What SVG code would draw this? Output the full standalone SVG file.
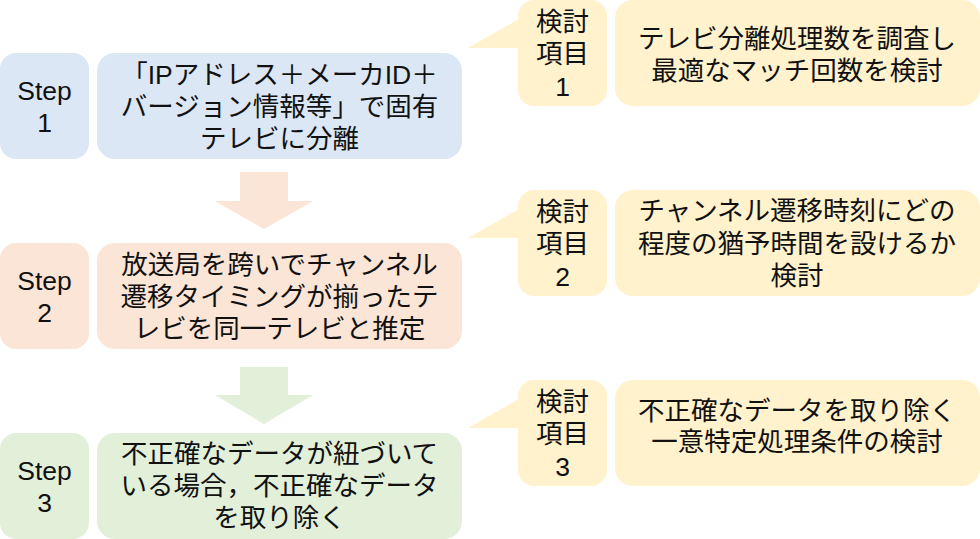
<svg xmlns="http://www.w3.org/2000/svg" width="980" height="539" viewBox="0 0 980 539">
<style>
text{font-family:"Liberation Sans","Noto Sans CJK JP",sans-serif;font-size:26.5px;fill:#111;text-anchor:middle}
.b{fill:#dbe7f5}.o{fill:#fbe5d6}.g{fill:#e2efd9}.y{fill:#fff2cc}
</style>
<g id="connectors">
<polygon class="o" points="240,172 288,172 288,201 313,201 264,229 215,201 240,201"/>
<polygon class="g" points="240,367 288,367 288,395 313,395 264,424 215,395 240,395"/>
</g>
<g id="step1">
<rect class="b" x="0" y="53" width="89" height="106" rx="16"/>
<text x="44.5" y="100">Step</text><text x="44.5" y="132">1</text>
</g>
<g id="task1">
<rect class="b" x="97" y="53" width="365" height="106" rx="18"/>
<text x="279.5" y="84">「IPアドレス＋メーカID＋</text>
<text x="279.5" y="116">バージョン情報等」で固有</text>
<text x="279.5" y="148">テレビに分離</text>
</g>
<g id="step2">
<rect class="o" x="0" y="243" width="89" height="106" rx="16"/>
<text x="44.5" y="290">Step</text><text x="44.5" y="322">2</text>
</g>
<g id="task2">
<rect class="o" x="97" y="243" width="365" height="106" rx="18"/>
<text x="279.5" y="274">放送局を跨いでチャンネル</text>
<text x="279.5" y="306">遷移タイミングが揃ったテ</text>
<text x="279.5" y="338">レビを同一テレビと推定</text>
</g>
<g id="step3">
<rect class="g" x="0" y="433" width="89" height="106" rx="16"/>
<text x="44.5" y="480">Step</text><text x="44.5" y="512">3</text>
</g>
<g id="task3">
<rect class="g" x="97" y="433" width="365" height="106" rx="18"/>
<text x="279.5" y="463">不正確なデータが紐づいて</text>
<text x="279.5" y="495">いる場合，不正確なデータ</text>
<text x="279.5" y="527">を取り除く</text>
</g>
<g id="item1">
<rect class="y" x="518" y="0" width="89" height="106" rx="16"/>
<polygon class="y" points="468,48 524,16 524,48"/>
<text x="562.5" y="31">検討</text><text x="562.5" y="63">項目</text><text x="562.5" y="96">1</text>
</g>
<g id="desc1">
<rect class="y" x="615" y="0" width="365" height="106" rx="18"/>
<text x="797" y="48">テレビ分離処理数を調査し</text>
<text x="797" y="80">最適なマッチ回数を検討</text>
</g>
<g id="item2">
<rect class="y" x="518" y="190" width="89" height="106" rx="16"/>
<polygon class="y" points="468,238 524,206 524,238"/>
<text x="562.5" y="221">検討</text><text x="562.5" y="253">項目</text><text x="562.5" y="286">2</text>
</g>
<g id="desc2">
<rect class="y" x="615" y="190" width="365" height="106" rx="18"/>
<text x="797" y="220">チャンネル遷移時刻にどの</text>
<text x="797" y="253">程度の猶予時間を設けるか</text>
<text x="797" y="285">検討</text>
</g>
<g id="item3">
<rect class="y" x="518" y="380" width="89" height="106" rx="16"/>
<polygon class="y" points="468,428 524,396 524,428"/>
<text x="562.5" y="411">検討</text><text x="562.5" y="443">項目</text><text x="562.5" y="476">3</text>
</g>
<g id="desc3">
<rect class="y" x="615" y="380" width="365" height="106" rx="18"/>
<text x="797" y="420">不正確なデータを取り除く</text>
<text x="797" y="451">一意特定処理条件の検討</text>
</g>
</svg>
